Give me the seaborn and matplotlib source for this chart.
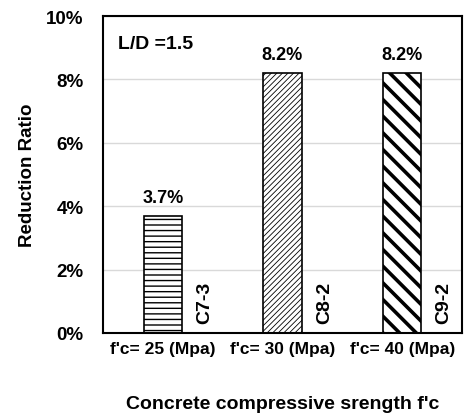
import matplotlib
matplotlib.use("Agg")
import matplotlib.pyplot as plt
import seaborn as sns
import pandas as pd
from matplotlib.ticker import FuncFormatter

categories = ["f'c= 25 (Mpa)", "f'c= 30 (Mpa)", "f'c= 40 (Mpa)"]
values = [3.7, 8.2, 8.2]
value_labels = ["3.7%", "8.2%", "8.2%"]
specimens = ["C7-3", "C8-2", "C9-2"]
yticks = [0, 2, 4, 6, 8, 10]

sns.set_style("white")
plt.rcParams['font.family'] = ['Liberation Sans', 'DejaVu Sans']
plt.rcParams['font.weight'] = 'bold'
plt.rcParams['text.color'] = 'black'
plt.rcParams['axes.labelcolor'] = 'black'
plt.rcParams['xtick.color'] = 'black'
plt.rcParams['ytick.color'] = 'black'

df = pd.DataFrame({"cat": categories, "val": values})
fig = plt.figure(figsize=(4.68, 4.14), dpi=100)
ax = fig.add_axes([103/468, 80/414, 359/468, 317/414])

sns.barplot(data=df, x="cat", y="val", ax=ax, color="white", width=0.32,
            edgecolor="black", linewidth=1.2, saturation=1)

hatches = ["---", "//////", "\\\\"]
hlw = [1.0, 0.6, 2.6]
for p, h, lw in zip(ax.patches, hatches, hlw):
    p.set_hatch(h)
    try:
        p.set_hatch_linewidth(lw)
    except Exception:
        pass

ax.set_ylim(0, 10)
ax.set_xlim(-0.5, 2.5)
ax.set_yticks(yticks)
ax.yaxis.set_major_formatter(FuncFormatter(lambda v, pos: f"{v:.0f}%"))
ax.yaxis.grid(True, color="#d9d9d9", linewidth=1)
ax.set_axisbelow(True)
for s in ax.spines.values():
    s.set_color("black")
    s.set_linewidth(1.5)
ax.tick_params(axis="y", labelsize=13.5, length=0, pad=14)
ax.tick_params(axis="x", labelsize=12.5, length=0, pad=6)
for t in ax.get_xticklabels() + ax.get_yticklabels():
    t.set_fontweight("bold")

ax.set_ylabel("Reduction Ratio", fontsize=13.5, fontweight="bold", labelpad=7)
ax.set_xlabel("Concrete compressive srength f'c", fontsize=14, fontweight="bold", labelpad=28)

for i, (v, lab, sp) in enumerate(zip(values, value_labels, specimens)):
    ax.text(i, v + 0.32, lab, ha="center", va="bottom", fontsize=13, fontweight="bold")
    ax.text(i + 0.35, 0.3, sp, ha="center", va="bottom", rotation=90, fontsize=14, fontweight="bold")

ax.text(0.042, 0.885, "L/D =1.5", transform=ax.transAxes, fontsize=14, fontweight="bold", va="bottom")

fig.savefig("out.png", dpi=100)
